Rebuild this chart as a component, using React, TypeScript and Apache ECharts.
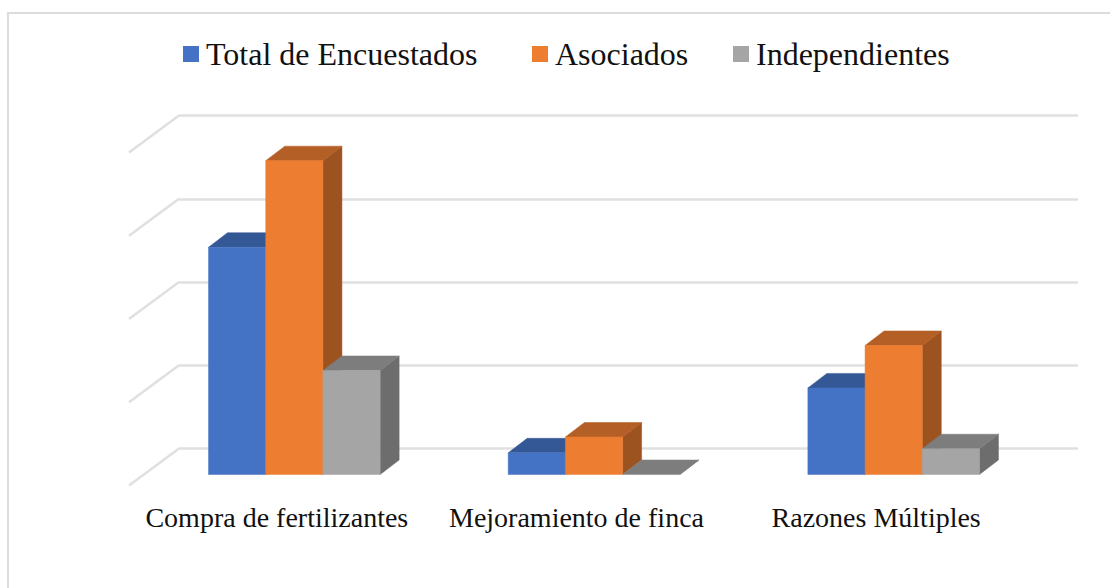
import React, { useEffect, useRef } from "react";
import * as echarts from "echarts";

const categories = ["Compra de fertilizantes", "Mejoramiento de finca", "Razones Múltiples"];
const total = [27.3, 2.6, 10.4];
const asociados = [37.7, 4.5, 15.5];
const independientes = [12.5, 0, 3.1];
const ticks = [0, 10, 20, 30, 40];

const FONT = "'Liberation Serif', serif";
const DEPTH_X = 19;
const DEPTH_Y = -14.5;
const FLOOR_X = -34.5;
const FLOOR_Y = 26;
const BAR_W = 57.2;

function shade(hex: string, k: number) {
  const n = parseInt(hex.slice(1), 16);
  const c = (s: number) => Math.round(((n >> s) & 255) * k);
  return `rgb(${c(16)},${c(8)},${c(0)})`;
}

function barSeries(name: string, values: number[], color: string, slot: number) {
  return {
    type: "custom",
    name,
    xAxisIndex: 0,
    yAxisIndex: 0,
    itemStyle: { color },
    data: values.map((v, i) => [i, v]),
    renderItem: (_p: any, api: any) => {
      const top = api.coord([api.value(0), api.value(1)]);
      const base = api.coord([api.value(0), 0]);
      const x0 = top[0] + FLOOR_X + (slot - 1.5) * BAR_W;
      const x1 = x0 + BAR_W;
      const yT = top[1] + FLOOR_Y;
      const yB = base[1] + FLOOR_Y;
      const poly = (points: number[][], fill: string) => ({
        type: "polygon",
        shape: { points },
        style: { fill, stroke: fill, lineWidth: 0.5 },
      });
      return {
        type: "group",
        children: [
          poly([[x1, yT], [x1 + DEPTH_X, yT + DEPTH_Y], [x1 + DEPTH_X, yB + DEPTH_Y], [x1, yB]], shade(color, 0.66)),
          poly([[x0, yT], [x0 + DEPTH_X, yT + DEPTH_Y], [x1 + DEPTH_X, yT + DEPTH_Y], [x1, yT]], shade(color, 0.76)),
          poly([[x0, yT], [x1, yT], [x1, yB], [x0, yB]], color),
        ],
      };
    },
  };
}

function legend(name: string, left: number, gap: number) {
  return {
    data: [name],
    left,
    top: 38,
    itemWidth: 16,
    itemHeight: 16,
    itemGap: gap,
    padding: 0,
    icon: "rect",
    selectedMode: false,
    textStyle: { fontFamily: FONT, fontSize: 32, color: "#111111", padding: [0, 0, 0, 2] },
  };
}

export default function App() {
  const ref = useRef<HTMLDivElement>(null);
  useEffect(() => {
    const chart = echarts.init(ref.current!, undefined, { renderer: "svg" });
    chart.setOption({
      animation: false,
      backgroundColor: "#ffffff",
      graphic: [
        {
          type: "rect",
          shape: { x: 8, y: 13, width: 1120, height: 600 },
          style: { fill: "transparent", stroke: "#dcdcdc", lineWidth: 2 },
          silent: true,
        },
      ],
      legend: [
        legend("Total de Encuestados", 183, 6),
        legend("Asociados", 532, 5),
        legend("Independientes", 733, 6),
      ],
      grid: [
        { left: 179, width: 899, top: 115.5, height: 333 },
        { left: 127, width: 899, top: 115.5, height: 369 },
      ],
      xAxis: [
        { type: "category", gridIndex: 0, data: categories, show: false },
        {
          type: "category",
          gridIndex: 1,
          data: categories,
          axisLine: { show: false },
          axisTick: { show: false },
          axisLabel: { fontFamily: FONT, fontSize: 28, color: "#111111", margin: 19, interval: 0 },
        },
      ],
      yAxis: [
        {
          type: "value",
          gridIndex: 0,
          min: 0,
          max: 40,
          interval: 10,
          axisLine: { show: false },
          axisTick: { show: false },
          axisLabel: { show: false },
          splitLine: { lineStyle: { color: "#e0e0e0", width: 2.5 } },
        },
        { type: "value", gridIndex: 1, min: 0, max: 40, show: false, splitLine: { show: false } },
      ],
      series: [
        {
          type: "custom",
          name: "floor",
          xAxisIndex: 0,
          yAxisIndex: 0,
          silent: true,
          data: ticks.map((t) => [0, t]),
          renderItem: (params: any, api: any) => {
            const y = api.coord([0, api.value(1)])[1];
            const x = params.coordSys.x;
            return {
              type: "line",
              shape: { x1: x, y1: y, x2: x - 50, y2: y + 37 },
              style: { stroke: "#e0e0e0", lineWidth: 2.5 },
            };
          },
        },
        barSeries("Total de Encuestados", total, "#4472c4", 0),
        barSeries("Asociados", asociados, "#ed7d31", 1),
        barSeries("Independientes", independientes, "#a5a5a5", 2),
      ],
    });
    return () => chart.dispose();
  }, []);
  return <div ref={ref} style={{ position: "fixed", left: 0, top: 0, width: 1110, height: 588 }} />;
}
